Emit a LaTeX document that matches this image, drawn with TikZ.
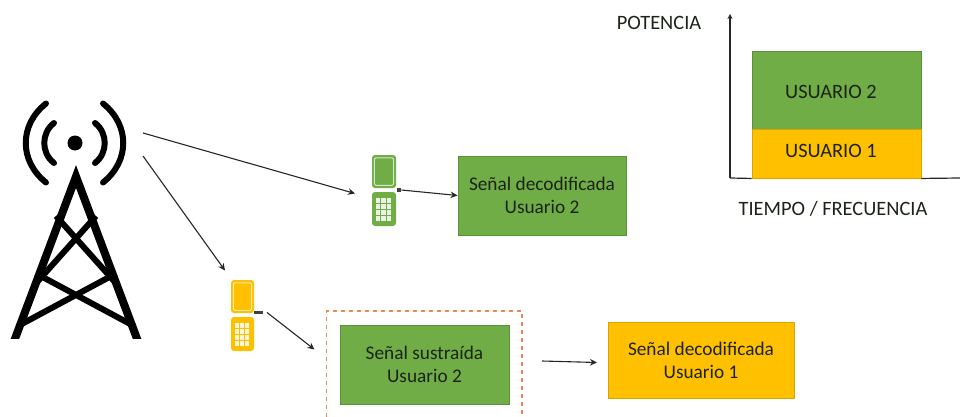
\documentclass[tikz,border=0pt]{standalone}
\usepackage{fontspec}
\setmainfont{Carlito}
\usetikzlibrary{arrows.meta}
\definecolor{ugreen}{HTML}{70AD47}
\definecolor{ugreenb}{HTML}{5B8F3A}
\definecolor{uyellow}{HTML}{FFC000}
\definecolor{uyellowb}{HTML}{D9A300}
\definecolor{dashor}{HTML}{E58A55}
\definecolor{txt}{HTML}{1C2418}
\tikzset{
  sbox/.style={draw=#1b,fill=#1,line width=0.9pt,inner sep=0pt,align=center,text=txt,font=\fontsize{19.3}{23}\selectfont},
  lbl/.style={inner sep=0pt,text=txt,font=\fontsize{20.4}{24}\selectfont},
  conn/.style={-{Stealth[length=7pt,width=6.5pt]},line width=1.1pt,black!85},
  axisl/.style={line width=1.2pt,black!85},
  towerl/.style={line width=8pt,black},
  brace/.style={line width=6pt,black},
  wave/.style={line width=6pt,black,line cap=round},
}
\newcommand{\phoneicon}[5]{% x0, y0, width, color, name
  \begin{scope}[shift={(#1,#2)}]
    \node[inner sep=0pt,minimum width=#3,minimum height=71pt,anchor=north west] (#5) at (0,0) {};
    \fill[#4,rounded corners=3pt] (0,0) rectangle (#3,33);
    \draw[white!70!#4,line width=1pt,rounded corners=1.5pt] (2.4,2.8) rectangle (#3-2.4,30.4);
    \fill[#4] (3.6,6.5) rectangle (#3-3.6,29);
    \fill[#4,rounded corners=3pt] (0,37) rectangle (#3,71);
    \foreach \i in {0,1,2}{
      \foreach \j in {0,1,2,3}{
        \fill[white!85!#4] ({3.5+\i*(#3-7)/3},{43+\j*6}) rectangle ({3.5+(\i+1)*(#3-7)/3-1.2},{47.6+\j*6});
      }
    }
  \end{scope}
}
\begin{document}
\begin{tikzpicture}[x=1pt,y=-1pt]
\useasboundingbox (0,0) rectangle (960,417);
% tower
\begin{scope}
\clip (0,150) rectangle (160,338);
\draw[towerl,miter limit=10] (13,344) -- (76,176.5) -- (139,344);
\draw[brace] (56,216) -- (114,281);
\draw[brace] (96,216) -- (38,281);
\draw[brace] (36,273.5) -- (134,326);
\draw[brace] (116,273.5) -- (18,326);
\end{scope}
\node[circle,fill=black,inner sep=0pt,minimum size=15pt] (dot) at (75,143) {};
\draw[wave] (46,103.5) .. controls (19,125) and (19,161) .. (46,182.5);
\draw[wave] (54,123) .. controls (41,133) and (41,153) .. (54,163);
\draw[wave] (103,103.5) .. controls (130,125) and (130,161) .. (103,182.5);
\draw[wave] (95,123) .. controls (108,133) and (108,153) .. (95,163);
\coordinate (txA) at (143,133);
\coordinate (txB) at (143,156);
% phones
\phoneicon{372}{155}{24}{ugreen}{phoneG}
\phoneicon{231}{280}{23}{uyellow}{phoneY}
\node[fill=black!75,inner sep=0pt,minimum width=4.5pt,minimum height=4pt] (portG) at (399,190) {};
\node[fill=black!75,inner sep=0pt,minimum width=8.5pt,minimum height=3pt] (portY) at (258.5,312) {};
\coordinate (inG) at (355,193.5);
\coordinate (inY) at (225,270.5);
% boxes
\node[sbox=ugreen,minimum width=168pt,minimum height=79pt] (dec2) at (542,195.5) {Señal decodificada\\Usuario 2};
\node[sbox=ugreen,minimum width=169pt,minimum height=79pt] (sus2) at (424.5,364.5) {Señal sustraída\\Usuario 2};
\node[sbox=uyellow,minimum width=186pt,minimum height=76pt] (dec1) at (701,360) {Señal decodificada\\Usuario 1};
% dashed frame (runs off the bottom)
\draw[dashor,line width=1.1pt,dash pattern=on 4.5pt off 3.5pt] (326.5,417) -- (326.5,311) -- (522,311) -- (522,417);
\coordinate (yStart) at (267,312.5);
\coordinate (frameIn) at (314.5,349.5);
\coordinate (frameOut) at (542,361);
\coordinate (dec1In) at (597,362.5);
% connectors
\draw[conn] (txA) -- (inG);
\draw[conn] (txB) -- (inY);
\draw[conn] (portG.east) -- (dec2.west);
\draw[conn] (yStart) -- (frameIn);
\draw[conn] (frameOut) -- (dec1In);
% chart
\node[sbox=ugreen,minimum width=169pt,minimum height=78pt] (bar2) at (836.5,90) {};
\node[sbox=uyellow,minimum width=169pt,minimum height=49pt] (bar1) at (836.5,153.5) {};
\node[lbl] (u2) at (831,92) {USUARIO 2};
\node[lbl] (u1) at (831,151) {USUARIO 1};
\coordinate (origin) at (730,178);
\coordinate (yTop) at (730,14);
\coordinate (xEnd) at (960,178);
\draw[axisl,-{Stealth[length=5pt,width=5pt]}] (origin) -- (yTop);
\draw[axisl] (origin) -- (bar1.south west);
\draw[axisl] (bar1.south east) -- (xEnd);
\node[lbl] (pot) at (659,23) {POTENCIA};
\node[lbl] (tf) at (833,208.5) {TIEMPO / FRECUENCIA};
\end{tikzpicture}
\end{document}
